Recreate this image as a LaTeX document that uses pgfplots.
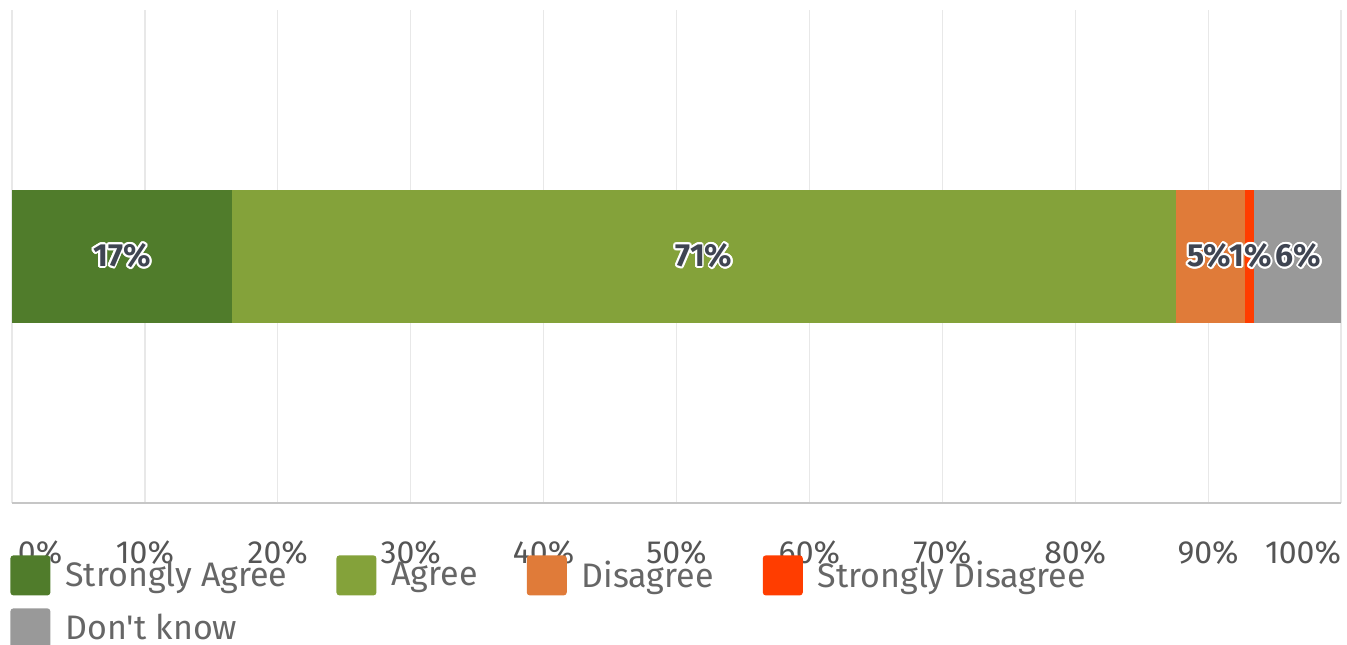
\documentclass[border=0pt]{standalone}
\usepackage{pgfplots}
\pgfplotsset{compat=1.18}
\usepackage{fontspec}
\setmainfont{Fira Sans}[Ligatures=TeXOff]
\usepackage{contour}
\contourlength{0.9pt}
\definecolor{sa}{HTML}{507C2B}
\definecolor{ag}{HTML}{84A23A}
\definecolor{di}{HTML}{E07B39}
\definecolor{sd}{HTML}{FF3D00}
\definecolor{dk}{HTML}{999999}
\definecolor{legtext}{HTML}{666666}
\definecolor{ticktext}{HTML}{555555}
\definecolor{labc}{HTML}{3F4552}
\pgfplotsset{mylegend/.style={legend image code/.code={\fill[##1, rounded corners=1.5pt] (0pt,-10pt) rectangle (20pt,10pt);}}}
\begin{document}
\begin{tikzpicture}
\begin{axis}[
  scale only axis, width=664.5pt, height=246.5pt,
  xbar stacked, bar width=66.5pt,
  xmin=0, xmax=100, ymin=-1, ymax=1,
  ytick=\empty,
  xtick={0,10,...,100},
  xticklabels={\rlap{\hspace*{3pt}0\%},10\%,20\%,30\%,40\%,50\%,60\%,70\%,80\%,90\%,\llap{100\%}},
  xticklabel style={anchor=north, yshift=-18.5pt, inner sep=0pt, font=\fontsize{16}{18}\selectfont, text=ticktext},
  major tick length=0pt,
  axis x line*=bottom, axis y line=none,
  axis line style={-, draw=gray!45, line width=0.8pt},
  xmajorgrids, grid style={draw=gray!18, line width=0.6pt},
  legend columns=4,
  legend cell align=left,
  legend style={at={(rel axis cs:0,0)}, anchor=north west, xshift=-1pt, yshift=-26pt,
    draw=none, fill=none, inner sep=0pt, font=\fontsize{17}{19}\selectfont, text=legtext,
    column sep=7.5pt, row sep=6.5pt,
    /tikz/every even column/.append style={column sep=24.5pt},
    nodes={inner sep=0pt}},
]
\addplot[fill=sa, draw=none, mylegend] coordinates {(16.55,0)};
\addlegendentry{Strongly Agree}
\addplot[fill=ag, draw=none, mylegend] coordinates {(71.03,0)};
\addlegendentry{Agree}
\addplot[fill=di, draw=none, mylegend] coordinates {(5.20,0)};
\addlegendentry{Disagree}
\addplot[fill=sd, draw=none, mylegend] coordinates {(0.67,0)};
\addlegendentry{Strongly Disagree}
\addplot[fill=dk, draw=none, mylegend] coordinates {(6.55,0)};
\addlegendentry{Don't know}
\coordinate (bl) at (rel axis cs:0,0);
\coordinate (tr) at (rel axis cs:1,1);
\end{axis}
\begin{axis}[
  scale only axis, width=664.5pt, height=246.5pt,
  xmin=0, xmax=100, ymin=-1, ymax=1, hide axis]
\addplot[only marks, mark=none, nodes near coords={\contour{white}{\pgfplotspointmeta\%}},
  point meta=explicit symbolic,
  every node near coord/.append style={anchor=center, inner sep=0pt, font=\fontsize{16}{18}\selectfont\bfseries, text=labc}]
  table[meta=lab, row sep=\\] {
  x y lab\\
  8.28 0 17\\
  52.07 0 71\\
  90.10 0 5\\
  93.20 0 1\\
  96.80 0 6\\
};
\end{axis}
\pgfresetboundingbox
\path ([xshift=-6pt,yshift=-71pt]bl) rectangle ([xshift=3pt,yshift=5pt]tr);
\end{tikzpicture}
\end{document}
